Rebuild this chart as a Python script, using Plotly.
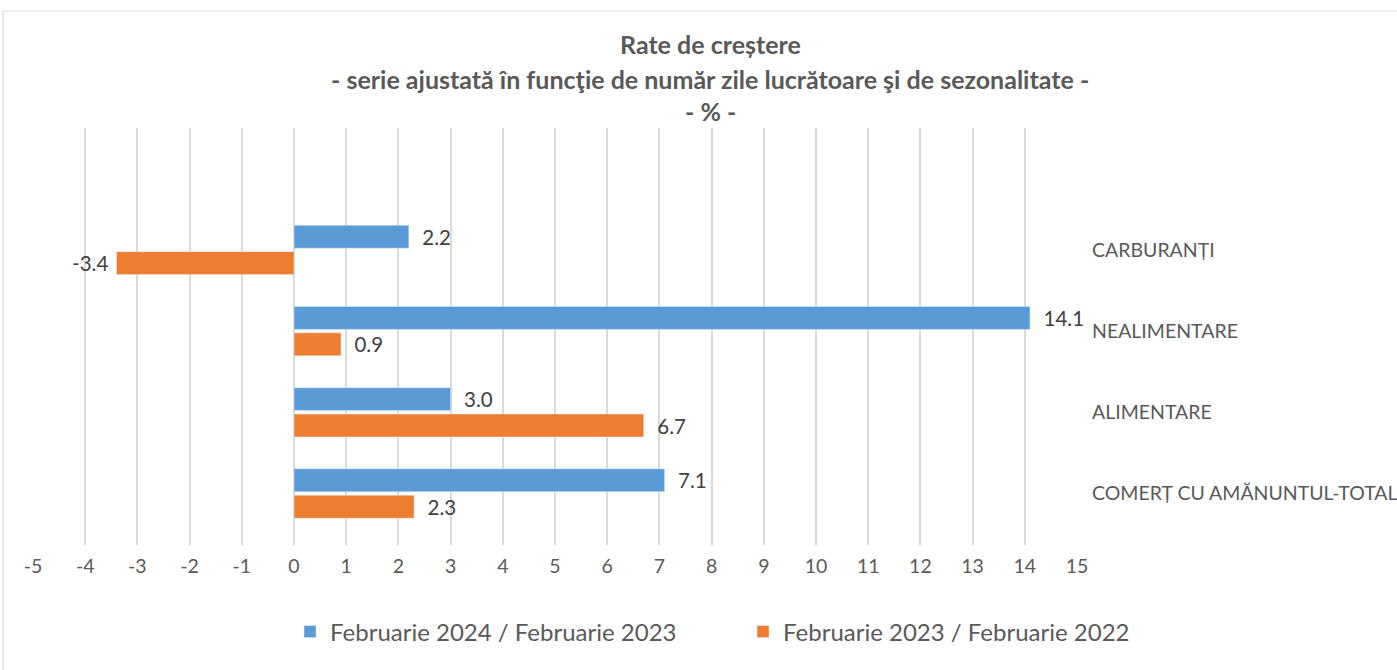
import plotly.graph_objects as go

categories = ["CARBURANȚI", "NEALIMENTARE", "ALIMENTARE", "COMERȚ CU AMĂNUNTUL-TOTAL"]
series_2024 = [2.2, 14.1, 3.0, 7.1]
series_2023 = [-3.4, 0.9, 6.7, 2.3]
name_2024 = "Februarie 2024 / Februarie 2023"
name_2023 = "Februarie 2023 / Februarie 2022"
x_ticks = list(range(-5, 16))
title_lines = ["Rate de creștere",
               "- serie ajustată în funcţie de număr zile lucrătoare şi de sezonalitate -",
               "- % -"]

FONT = "Lato"
GREY = "#595959"
W, H = 1397, 670
L, R, T, B = 33, 320, 128, 125
PW, PH = W - L - R, H - T - B


def px_x(px):
    return (px - L) / PW


def px_y(py):
    return (H - B - py) / PH


def lab(v):
    s = f"{v:.1f}"
    return s + "\u00a0" if v < 0 else "\u00a0\u00a0" + s


fig = go.Figure()
fig.add_trace(go.Bar(
    y=categories, x=series_2024, orientation="h", name=name_2024,
    marker=dict(color="#5B9BD5"),
    text=[lab(v) for v in series_2024], textposition="outside",
    textfont=dict(family=FONT, size=20.5, color="#404040"),
    constraintext="none", cliponaxis=False, legendrank=1,
))
fig.add_trace(go.Bar(
    y=categories, x=series_2023, orientation="h", name=name_2023,
    marker=dict(color="#ED7D31"),
    text=[lab(v) for v in series_2023], textposition="outside",
    textfont=dict(family=FONT, size=20.5, color="#404040"),
    constraintext="none", cliponaxis=False, legendrank=2,
))

annotations = []
for line, py in zip(title_lines, [44, 79, 111]):
    annotations.append(dict(
        text=f"<b>{line}</b>", x=px_x(710), y=px_y(py), xref="paper", yref="paper",
        xanchor="center", yanchor="middle", showarrow=False,
        font=dict(family=FONT, size=25, color=GREY),
    ))

fig.update_layout(
    width=W, height=H,
    margin=dict(l=L, r=R, t=T, b=B, autoexpand=False),
    paper_bgcolor="white", plot_bgcolor="white",
    barmode="group", bargap=0.35, bargroupgap=0.13,
    font=dict(family=FONT, color=GREY),
    showlegend=True,
    legend=dict(orientation="h", x=px_x(290), xanchor="left",
                y=px_y(632), yanchor="middle",
                font=dict(family=FONT, size=24, color=GREY),
                entrywidth=408, traceorder="normal"),
    annotations=annotations,
    shapes=[dict(type="rect", xref="paper", yref="paper",
                 x0=px_x(3), x1=px_x(1500), y0=px_y(800), y1=px_y(11),
                 line=dict(color="#d9d9d9", width=1.2), fillcolor="rgba(0,0,0,0)",
                 layer="below")],
    xaxis=dict(range=[-5, 15], tickvals=x_ticks, ticktext=[str(v) for v in x_ticks],
               showgrid=True, gridcolor="#d9d9d9", gridwidth=1.5,
               zeroline=True, zerolinecolor="#d9d9d9", zerolinewidth=1.5,
               showline=False, ticks="", ticklabelstandoff=7,
               tickfont=dict(family=FONT, size=19.5, color=GREY)),
    yaxis=dict(categoryorder="array", categoryarray=categories,
               range=[3.634, -1.502], side="right", showgrid=False,
               zeroline=False, showline=False, ticks="", ticklabelstandoff=14,
               tickfont=dict(family=FONT, size=19.5, color=GREY)),
)

fig.write_html("out.html", config={"displayModeBar": False},
               post_script="document.body.style.margin='0';")
